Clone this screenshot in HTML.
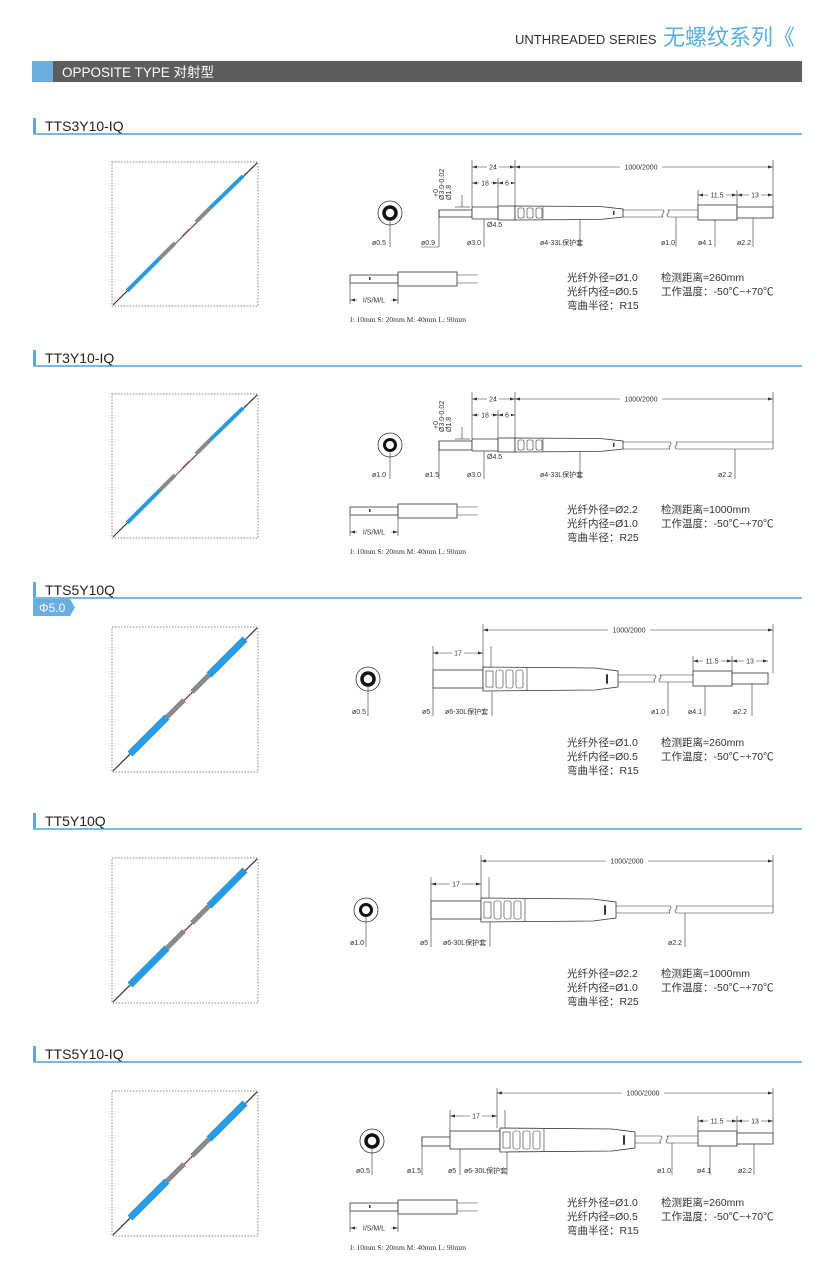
<!DOCTYPE html>
<html><head><meta charset="utf-8"><style>
html,body{margin:0;padding:0;background:#fff;}
svg{display:block;}
.t{font-family:"Liberation Sans","Noto Sans CJK SC",sans-serif;}
.lb{font-family:"Liberation Sans","Noto Sans CJK SC",sans-serif;font-size:7px;fill:#333;}
.sp{font-family:"Liberation Sans","Noto Sans CJK SC",sans-serif;font-size:10.5px;fill:#333;}
.fn{font-family:"Liberation Serif",serif;font-size:7.5px;fill:#333;}
.dm{font-family:"Liberation Sans",sans-serif;font-size:7px;fill:#333;}
.s{stroke:#333;stroke-width:0.8;fill:#fff;}
.l{stroke:#333;stroke-width:0.6;fill:none;}
.d{stroke:#333;stroke-width:0.6;fill:none;marker-start:url(#a1);marker-end:url(#a2);}
</style></head><body>
<svg width="821" height="1270" viewBox="0 0 821 1270" xmlns="http://www.w3.org/2000/svg">
<defs>
<marker id="a1" markerWidth="6" markerHeight="4" refX="0" refY="2" orient="auto" markerUnits="userSpaceOnUse"><path d="M0,2 L5,0.5 L5,3.5 Z" fill="#333"/></marker>
<marker id="a2" markerWidth="6" markerHeight="4" refX="5" refY="2" orient="auto" markerUnits="userSpaceOnUse"><path d="M5,2 L0,0.5 L0,3.5 Z" fill="#333"/></marker>
<g id="photoA">
<rect x="112" y="162" width="146" height="144" fill="none" stroke="#888" stroke-width="1" stroke-dasharray="1.5,1.5"/>
<line x1="113" y1="305" x2="257" y2="163" stroke="#333" stroke-width="1.2"/>
<line x1="127" y1="291" x2="160" y2="258" stroke="#2a9ae0" stroke-width="4"/>
<line x1="160" y1="258" x2="175" y2="243" stroke="#8a8a8a" stroke-width="4"/>
<line x1="175" y1="243" x2="196" y2="222" stroke="#ddd" stroke-width="1"/>
<line x1="182" y1="236" x2="189" y2="229" stroke="#e05050" stroke-width="0.8"/>
<line x1="196" y1="222" x2="210" y2="208" stroke="#8a8a8a" stroke-width="4"/>
<line x1="210" y1="208" x2="243" y2="176" stroke="#2a9ae0" stroke-width="4"/>
</g>
<g id="photoB">
<rect x="112" y="163" width="146" height="145" fill="none" stroke="#888" stroke-width="1" stroke-dasharray="1.5,1.5"/>
<line x1="113" y1="307" x2="257" y2="164" stroke="#333" stroke-width="1.2"/>
<line x1="130" y1="290" x2="167" y2="253" stroke="#2a9ae0" stroke-width="7"/>
<line x1="167" y1="253" x2="184" y2="236" stroke="#8a8a8a" stroke-width="5"/>
<line x1="184" y1="236" x2="192" y2="228" stroke="#e05050" stroke-width="0.8"/>
<line x1="192" y1="228" x2="209" y2="211" stroke="#8a8a8a" stroke-width="5"/>
<line x1="209" y1="211" x2="245" y2="175" stroke="#2a9ae0" stroke-width="7"/>
</g>
<!-- type A head body: sleeve, collar, boot, body (section1 coords) -->
<g id="bodyA">
<rect class="s" x="472" y="207" width="26" height="12" rx="1"/>
<rect class="s" x="498" y="206" width="17" height="14"/>
<path class="s" d="M515,206 L600,206.5 L623,209 L623,217 L600,219.5 L515,220 Z"/>
<rect class="l" x="518" y="208" width="6" height="10" rx="1.5"/>
<rect class="l" x="527" y="208" width="6" height="10" rx="1.5"/>
<rect class="l" x="536" y="208" width="6" height="10" rx="1.5"/>
<line class="l" x1="543" y1="206" x2="543" y2="220"/>
<rect x="613" y="211" width="1.5" height="4" fill="#333"/>
</g>
<g id="bodyB">
<rect class="s" x="433" y="670" width="50" height="18"/>
<path class="s" d="M483,667 L595,668 L618,671 L618,687 L595,690 L483,691 Z"/>
<rect class="l" x="486" y="671" width="7" height="16"/>
<rect class="l" x="496" y="670" width="7" height="18" rx="2"/>
<rect class="l" x="506" y="670" width="7" height="18" rx="2"/>
<rect class="l" x="516" y="670" width="7" height="18" rx="2"/>
<line class="l" x1="527" y1="667" x2="527" y2="691"/>
<rect x="606" y="674" width="2" height="10" rx="1" fill="#333"/>
</g>
<g id="circ05"><circle cx="0" cy="0" r="12" fill="#fff" stroke="#333" stroke-width="0.8"/><circle cx="0" cy="0" r="6" fill="none" stroke="#111" stroke-width="3.5"/></g>
<g id="circ10"><circle cx="0" cy="0" r="12" fill="#fff" stroke="#333" stroke-width="0.8"/><circle cx="0" cy="0" r="5.5" fill="none" stroke="#111" stroke-width="3"/></g>
<g id="tail">
<line class="l" x1="698" y1="190" x2="698" y2="205"/><line class="l" x1="737" y1="190" x2="737" y2="207"/>
<rect class="s" x="698" y="205" width="39" height="15"/>
<rect class="s" x="737" y="207" width="36" height="11"/>
<line class="d" x1="698" y1="195" x2="737" y2="195"/><line class="d" x1="737" y1="195" x2="773" y2="195"/>
<rect x="708" y="191" width="18" height="8" fill="#fff"/><text class="dm" x="717" y="197.5" text-anchor="middle">11.5</text>
<rect x="749" y="191" width="12" height="8" fill="#fff"/><text class="dm" x="755" y="197.5" text-anchor="middle">13</text>
</g>
<g id="small">
<rect class="s" x="350" y="275" width="48" height="8"/>
<rect class="s" x="398" y="272" width="59" height="14"/>
<line class="l" x1="457" y1="275" x2="478" y2="275"/><line class="l" x1="457" y1="283" x2="478" y2="283"/>
<rect x="369" y="277" width="1.5" height="3" fill="#333"/>
<line class="l" x1="350" y1="283" x2="350" y2="304"/><line class="l" x1="398" y1="286" x2="398" y2="304"/>
<line class="d" x1="350" y1="300" x2="398" y2="300"/>
<rect x="357" y="296" width="34" height="8" fill="#fff"/><text class="dm" x="374" y="302.5" text-anchor="middle">I/S/M/L</text>
<text class="fn" x="350" y="322">I: 10mm S: 20mm M: 40mm L: 90mm</text>
</g>
</defs>

<!-- header -->
<text class="t" x="515" y="44" font-size="13" fill="#333">UNTHREADED SERIES</text>
<text class="t" x="663" y="45" font-size="22" fill="#5aaee8">无螺纹系列《</text>
<rect x="32" y="61" width="770" height="21" fill="#5d5d5d"/>
<rect x="32" y="61" width="21" height="21" fill="#6aaee0"/>
<text class="t" x="62" y="77" font-size="13.5" fill="#fff">OPPOSITE TYPE 对射型</text>

<!-- section headers -->
<g class="t">
<rect x="33" y="118" width="3" height="16" fill="#5aa6e0"/><rect x="33" y="133" width="769" height="2" fill="#7ab6e6"/><text x="45" y="131" font-size="14" fill="#222">TTS3Y10-IQ</text>
<rect x="33" y="350" width="3" height="16" fill="#5aa6e0"/><rect x="33" y="365" width="769" height="2" fill="#7ab6e6"/><text x="45" y="363" font-size="14" fill="#222">TT3Y10-IQ</text>
<rect x="33" y="582" width="3" height="16" fill="#5aa6e0"/><rect x="33" y="597" width="769" height="2" fill="#7ab6e6"/><text x="45" y="595" font-size="14" fill="#222">TTS5Y10Q</text>
<path d="M33,599 L70,599 L75,607.5 L70,616 L33,616 Z" fill="#6aaee0"/><text x="39" y="612" font-size="12" fill="#fff">Φ5.0</text>
<rect x="33" y="813" width="3" height="16" fill="#5aa6e0"/><rect x="33" y="828" width="769" height="2" fill="#7ab6e6"/><text x="45" y="826" font-size="14" fill="#222">TT5Y10Q</text>
<rect x="33" y="1046" width="3" height="16" fill="#5aa6e0"/><rect x="33" y="1061" width="769" height="2" fill="#7ab6e6"/><text x="45" y="1059" font-size="14" fill="#222">TTS5Y10-IQ</text>
</g>

<use href="#photoA"/>
<use href="#photoA" transform="translate(0,232)"/>
<use href="#photoB" transform="translate(0,464)"/>
<use href="#photoB" transform="translate(0,695)"/>
<use href="#photoB" transform="translate(0,928)"/>

<!-- SECTION 1 -->
<g>
<use href="#circ05" transform="translate(390,213)"/>
<line class="l" x1="390" y1="219" x2="390" y2="247"/><text class="lb" x="372" y="245">ø0.5</text>
<rect class="s" x="439" y="210" width="33" height="7"/>
<line class="l" x1="439" y1="210" x2="439" y2="247"/><line class="l" x1="439" y1="247" x2="421" y2="247"/><text class="lb" x="421" y="245">ø0.9</text>
<use href="#bodyA"/>
<line class="l" x1="484" y1="219" x2="484" y2="247"/><text class="lb" x="467" y="245">ø3.0</text>
<line class="l" x1="580" y1="220" x2="580" y2="247"/><text class="lb" x="540" y="245">ø4-33L保护套</text>
<line class="l" x1="623" y1="210" x2="663" y2="210"/><line class="l" x1="623" y1="217" x2="663" y2="217"/>
<path class="l" d="M663,210 q2,2 0,3.5 q-2,2 0,3.5 M668,210 q2,2 0,3.5 q-2,2 0,3.5"/>
<line class="l" x1="668" y1="210" x2="698" y2="210"/><line class="l" x1="668" y1="217" x2="698" y2="217"/>
<use href="#tail"/>
<line class="l" x1="676" y1="217" x2="676" y2="247"/><text class="lb" x="661" y="245">ø1.0</text>
<line class="l" x1="715" y1="220" x2="715" y2="247"/><text class="lb" x="698" y="245">ø4.1</text>
<line class="l" x1="753" y1="218" x2="753" y2="247"/><text class="lb" x="737" y="245">ø2.2</text>
<line class="l" x1="472" y1="160" x2="472" y2="207"/><line class="l" x1="515" y1="160" x2="515" y2="206"/><line class="l" x1="773" y1="160" x2="773" y2="207"/><line class="l" x1="498" y1="178" x2="498" y2="206"/>
<line class="d" x1="472" y1="167" x2="515" y2="167"/><line class="d" x1="515" y1="167" x2="773" y2="167"/>
<rect x="487" y="163" width="12" height="8" fill="#fff"/><text class="dm" x="493" y="169.5" text-anchor="middle">24</text>
<rect x="620" y="163" width="42" height="8" fill="#fff"/><text class="dm" x="641" y="169.5" text-anchor="middle">1000/2000</text>
<line class="d" x1="472" y1="183" x2="498" y2="183"/><line class="d" x1="498" y1="183" x2="515" y2="183"/>
<rect x="479" y="179" width="12" height="8" fill="#fff"/><text class="dm" x="485" y="185.5" text-anchor="middle">18</text>
<rect x="503" y="179" width="8" height="8" fill="#fff"/><text class="dm" x="507" y="185.5" text-anchor="middle">6</text>
<text class="dm" font-size="5" transform="translate(444,200) rotate(-90)">Ø3.0-0.02</text>
<text class="dm" font-size="5" transform="translate(451,200) rotate(-90)">Ø1.8</text>
<text class="dm" font-size="5" transform="translate(438,197) rotate(-90)">+0</text>
<line class="l" x1="462" y1="195" x2="462" y2="207"/><line class="l" x1="455" y1="207" x2="470" y2="207"/>
<text class="dm" x="487" y="227">Ø4.5</text>
<use href="#small"/>
<text class="sp" x="567" y="281">光纤外径=Ø1.0</text><text class="sp" x="567" y="295">光纤内径=Ø0.5</text><text class="sp" x="567" y="309">弯曲半径：R15</text>
<text class="sp" x="661" y="281">检测距离=260mm</text><text class="sp" x="661" y="295">工作温度：-50℃~+70℃</text>
</g>

<!-- SECTION 2 -->
<g transform="translate(0,232)">
<use href="#circ10" transform="translate(390,213)"/>
<line class="l" x1="390" y1="219" x2="390" y2="247"/><text class="lb" x="372" y="245">ø1.0</text>
<rect class="s" x="439" y="209" width="33" height="9"/>
<line class="l" x1="439" y1="209" x2="439" y2="247"/><text class="lb" x="425" y="245">ø1.5</text>
<use href="#bodyA"/>
<line class="l" x1="484" y1="219" x2="484" y2="247"/><text class="lb" x="467" y="245">ø3.0</text>
<line class="l" x1="580" y1="220" x2="580" y2="247"/><text class="lb" x="540" y="245">ø4-33L保护套</text>
<line class="l" x1="623" y1="210" x2="670" y2="210"/><line class="l" x1="623" y1="217" x2="670" y2="217"/>
<path class="l" d="M670,210 q2,2 0,3.5 q-2,2 0,3.5 M676,210 q2,2 0,3.5 q-2,2 0,3.5"/>
<line class="l" x1="676" y1="210" x2="773" y2="210"/><line class="l" x1="676" y1="217" x2="773" y2="217"/><line class="l" x1="773" y1="210" x2="773" y2="217"/>
<line class="l" x1="735" y1="217" x2="735" y2="247"/><text class="lb" x="718" y="245">ø2.2</text>
<line class="l" x1="472" y1="160" x2="472" y2="207"/><line class="l" x1="515" y1="160" x2="515" y2="206"/><line class="l" x1="773" y1="160" x2="773" y2="210"/><line class="l" x1="498" y1="178" x2="498" y2="206"/>
<line class="d" x1="472" y1="167" x2="515" y2="167"/><line class="d" x1="515" y1="167" x2="773" y2="167"/>
<rect x="487" y="163" width="12" height="8" fill="#fff"/><text class="dm" x="493" y="169.5" text-anchor="middle">24</text>
<rect x="620" y="163" width="42" height="8" fill="#fff"/><text class="dm" x="641" y="169.5" text-anchor="middle">1000/2000</text>
<line class="d" x1="472" y1="183" x2="498" y2="183"/><line class="d" x1="498" y1="183" x2="515" y2="183"/>
<rect x="479" y="179" width="12" height="8" fill="#fff"/><text class="dm" x="485" y="185.5" text-anchor="middle">18</text>
<rect x="503" y="179" width="8" height="8" fill="#fff"/><text class="dm" x="507" y="185.5" text-anchor="middle">6</text>
<text class="dm" font-size="5" transform="translate(444,200) rotate(-90)">Ø3.0-0.02</text>
<text class="dm" font-size="5" transform="translate(451,200) rotate(-90)">Ø1.8</text>
<text class="dm" font-size="5" transform="translate(438,197) rotate(-90)">+0</text>
<line class="l" x1="462" y1="195" x2="462" y2="207"/><line class="l" x1="455" y1="207" x2="470" y2="207"/>
<text class="dm" x="487" y="227">Ø4.5</text>
<use href="#small"/>
<text class="sp" x="567" y="281">光纤外径=Ø2.2</text><text class="sp" x="567" y="295">光纤内径=Ø1.0</text><text class="sp" x="567" y="309">弯曲半径：R25</text>
<text class="sp" x="661" y="281">检测距离=1000mm</text><text class="sp" x="661" y="295">工作温度：-50℃~+70℃</text>
</g>

<!-- SECTION 3 -->
<g>
<use href="#circ05" transform="translate(368,679)"/>
<line class="l" x1="368" y1="685" x2="368" y2="716"/><text class="lb" x="352" y="714">ø0.5</text>
<use href="#bodyB"/>
<line class="l" x1="433" y1="688" x2="433" y2="716"/><text class="lb" x="422" y="714">ø5</text>
<line class="l" x1="492" y1="691" x2="492" y2="716"/><text class="lb" x="445" y="714">ø6-30L保护套</text>
<line class="l" x1="618" y1="675" x2="655" y2="675"/><line class="l" x1="618" y1="682" x2="655" y2="682"/>
<path class="l" d="M655,675 q2,2 0,3.5 q-2,2 0,3.5 M660,675 q2,2 0,3.5 q-2,2 0,3.5"/>
<line class="l" x1="660" y1="675" x2="693" y2="675"/><line class="l" x1="660" y1="682" x2="693" y2="682"/>
<g transform="translate(-5,466)"><use href="#tail"/></g>
<line class="l" x1="668" y1="682" x2="668" y2="716"/><text class="lb" x="651" y="714">ø1.0</text>
<line class="l" x1="705" y1="686" x2="705" y2="716"/><text class="lb" x="688" y="714">ø4.1</text>
<line class="l" x1="752" y1="684" x2="752" y2="716"/><text class="lb" x="733" y="714">ø2.2</text>
<line class="l" x1="433" y1="646" x2="433" y2="670"/><line class="l" x1="483" y1="624" x2="483" y2="667"/><line class="l" x1="491" y1="646" x2="491" y2="667"/><line class="l" x1="773" y1="624" x2="773" y2="673"/>
<line class="d" x1="483" y1="630" x2="773" y2="630"/>
<rect x="608" y="626" width="42" height="8" fill="#fff"/><text class="dm" x="629" y="632.5" text-anchor="middle">1000/2000</text>
<line class="d" x1="433" y1="653" x2="483" y2="653"/>
<rect x="452" y="649" width="12" height="8" fill="#fff"/><text class="dm" x="458" y="655.5" text-anchor="middle">17</text>
<text class="sp" x="567" y="746">光纤外径=Ø1.0</text><text class="sp" x="567" y="760">光纤内径=Ø0.5</text><text class="sp" x="567" y="774">弯曲半径：R15</text>
<text class="sp" x="661" y="746">检测距离=260mm</text><text class="sp" x="661" y="760">工作温度：-50℃~+70℃</text>
</g>

<!-- SECTION 4 -->
<g transform="translate(-2,231)">
<use href="#circ10" transform="translate(368,679)"/>
<line class="l" x1="368" y1="685" x2="368" y2="716"/><text class="lb" x="352" y="714">ø1.0</text>
<use href="#bodyB"/>
<line class="l" x1="433" y1="688" x2="433" y2="716"/><text class="lb" x="422" y="714">ø5</text>
<line class="l" x1="492" y1="691" x2="492" y2="716"/><text class="lb" x="445" y="714">ø6-30L保护套</text>
<line class="l" x1="618" y1="675" x2="672" y2="675"/><line class="l" x1="618" y1="682" x2="672" y2="682"/>
<path class="l" d="M672,675 q2,2 0,3.5 q-2,2 0,3.5 M678,675 q2,2 0,3.5 q-2,2 0,3.5"/>
<line class="l" x1="678" y1="675" x2="775" y2="675"/><line class="l" x1="678" y1="682" x2="775" y2="682"/><line class="l" x1="775" y1="675" x2="775" y2="682"/>
<line class="l" x1="687" y1="682" x2="687" y2="716"/><text class="lb" x="670" y="714">ø2.2</text>
<line class="l" x1="433" y1="646" x2="433" y2="670"/><line class="l" x1="483" y1="624" x2="483" y2="667"/><line class="l" x1="491" y1="646" x2="491" y2="667"/><line class="l" x1="775" y1="624" x2="775" y2="675"/>
<line class="d" x1="483" y1="630" x2="775" y2="630"/>
<rect x="608" y="626" width="42" height="8" fill="#fff"/><text class="dm" x="629" y="632.5" text-anchor="middle">1000/2000</text>
<line class="d" x1="433" y1="653" x2="483" y2="653"/>
<rect x="452" y="649" width="12" height="8" fill="#fff"/><text class="dm" x="458" y="655.5" text-anchor="middle">17</text>
<text class="sp" x="569" y="746">光纤外径=Ø2.2</text><text class="sp" x="569" y="760">光纤内径=Ø1.0</text><text class="sp" x="569" y="774">弯曲半径：R25</text>
<text class="sp" x="663" y="746">检测距离=1000mm</text><text class="sp" x="663" y="760">工作温度：-50℃~+70℃</text>
</g>

<!-- SECTION 5 -->
<g>
<use href="#circ05" transform="translate(372,1141)"/>
<line class="l" x1="372" y1="1147" x2="372" y2="1175"/><text class="lb" x="356" y="1173">ø0.5</text>
<rect class="s" x="422" y="1137" width="30" height="9"/>
<line class="l" x1="422" y1="1137" x2="422" y2="1175"/><text class="lb" x="407" y="1173">ø1.5</text>
<g transform="translate(17,461)"><use href="#bodyB"/></g>
<line class="l" x1="460" y1="1149" x2="460" y2="1175"/><text class="lb" x="448" y="1173">ø5</text>
<line class="l" x1="507" y1="1152" x2="507" y2="1175"/><text class="lb" x="464" y="1173">ø6-30L保护套</text>
<line class="l" x1="635" y1="1136" x2="661" y2="1136"/><line class="l" x1="635" y1="1143" x2="661" y2="1143"/>
<path class="l" d="M661,1136 q2,2 0,3.5 q-2,2 0,3.5 M667,1136 q2,2 0,3.5 q-2,2 0,3.5"/>
<line class="l" x1="667" y1="1136" x2="698" y2="1136"/><line class="l" x1="667" y1="1143" x2="698" y2="1143"/>
<g transform="translate(0,926)"><use href="#tail"/></g>
<line class="l" x1="672" y1="1143" x2="672" y2="1175"/><text class="lb" x="657" y="1173">ø1.0</text>
<line class="l" x1="710" y1="1146" x2="710" y2="1175"/><text class="lb" x="697" y="1173">ø4.1</text>
<line class="l" x1="754" y1="1144" x2="754" y2="1175"/><text class="lb" x="738" y="1173">ø2.2</text>
<line class="l" x1="450" y1="1110" x2="450" y2="1131"/><line class="l" x1="497" y1="1088" x2="497" y2="1128"/><line class="l" x1="505" y1="1110" x2="505" y2="1128"/><line class="l" x1="773" y1="1088" x2="773" y2="1133"/>
<line class="d" x1="497" y1="1093" x2="773" y2="1093"/>
<rect x="622" y="1089" width="42" height="8" fill="#fff"/><text class="dm" x="643" y="1095.5" text-anchor="middle">1000/2000</text>
<line class="d" x1="450" y1="1116" x2="497" y2="1116"/>
<rect x="470" y="1112" width="12" height="8" fill="#fff"/><text class="dm" x="476" y="1118.5" text-anchor="middle">17</text>
<g transform="translate(0,928)"><use href="#small"/></g>
<text class="sp" x="567" y="1206">光纤外径=Ø1.0</text><text class="sp" x="567" y="1220">光纤内径=Ø0.5</text><text class="sp" x="567" y="1234">弯曲半径：R15</text>
<text class="sp" x="661" y="1206">检测距离=260mm</text><text class="sp" x="661" y="1220">工作温度：-50℃~+70℃</text>
</g>
</svg>
</body></html>
